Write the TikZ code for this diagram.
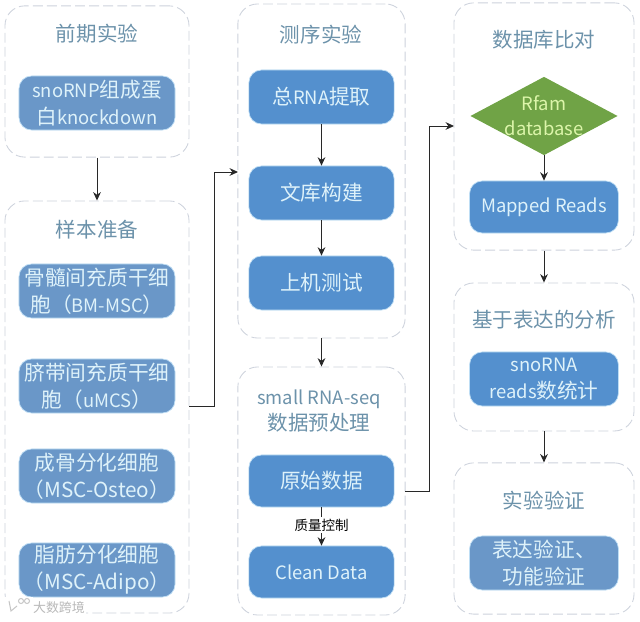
\documentclass[tikz,border=0pt]{standalone}
\usepackage{xcolor}
\usepackage{fontspec}
\setmainfont{Noto Sans CJK SC}
\usetikzlibrary{shapes.geometric, arrows.meta}
\definecolor{mypanel}{RGB}{205,210,220}
\definecolor{mytitle}{RGB}{108,146,170}
\definecolor{myblue}{RGB}{84,144,206}
\definecolor{mypale}{RGB}{106,151,200}
\definecolor{mygreen}{RGB}{112,163,70}
\definecolor{myglow}{RGB}{190,222,245}
\definecolor{mytext}{RGB}{222,242,250}
\definecolor{mylime}{RGB}{220,245,170}
\definecolor{mydark}{RGB}{40,40,40}
\newcommand{\lat}[1]{{\fontsize{13.1}{19.4}\selectfont #1}}
\tikzset{
  panel/.style={rectangle, draw=mypanel, dashed, dash pattern=on 7pt off 3pt,
    rounded corners=14pt, line width=0.6pt, fill=white},
  paneltitle/.style={align=center, text=mytitle, font=\fontsize{14.6}{18.6}\selectfont},
  block/.style={rectangle, draw=myglow, fill=myblue, text=mytext, align=center,
    minimum width=3.72cm, minimum height=1.35cm, inner sep=0pt,
    rounded corners=9pt, line width=0.5pt, font=\fontsize{14.7}{19.4}\selectfont},
  midblock/.style={block, minimum width=3.63cm},
  paleblock/.style={block, fill=mypale, minimum width=3.9cm},
  dbnode/.style={diamond, aspect=1.88, draw=none, fill=mygreen, text=mylime, align=center,
    minimum width=3.68cm, minimum height=1.96cm, inner sep=-2pt,
    font=\fontsize{13.1}{18}\selectfont},
  arrow/.style={-{Stealth[length=6pt, width=5.5pt]}, line width=0.7pt, color=mydark},
  line/.style={line width=0.7pt, color=mydark}
}
\begin{document}
\begin{tikzpicture}[x=0.025cm, y=-0.025cm]
  \useasboundingbox (0,0) rectangle (640,622);

  % Panels
  \node[panel, minimum width=4.6cm, minimum height=3.78cm] (pre) at (97,81.5) {};
  \node[panel, minimum width=4.6cm, minimum height=10.3cm] (sample) at (97,407) {};
  \node[panel, minimum width=4.18cm, minimum height=8.35cm] (seq) at (321.5,171) {};
  \node[panel, minimum width=4.18cm, minimum height=6.2cm] (clean) at (321.5,491) {};
  \node[panel, minimum width=4.5cm, minimum height=6.18cm] (db) at (544,126.5) {};
  \node[panel, minimum width=4.5cm, minimum height=3.7cm] (expr) at (544,357) {};
  \node[panel, minimum width=4.5cm, minimum height=3.78cm] (valid) at (544,538.5) {};

  % Titles
  \node[paneltitle] (pretitle) at (97,34) {前期实验};
  \node[paneltitle] (sampletitle) at (97,230) {样本准备};
  \node[paneltitle] (seqtitle) at (321,35) {测序实验};
  \node[paneltitle] (cleantitle) at (319,411) {\lat{small RNA-seq}\\数据预处理};
  \node[paneltitle] (dbtitle) at (544,40) {数据库比对};
  \node[paneltitle] (exprtitle) at (544,320) {基于表达的分析};
  \node[paneltitle] (validtitle) at (544,501) {实验验证};

  % Left column
  \node[paleblock] (knock) at (97,103) {\lat{snoRNP}组成蛋\\白\lat{knockdown}};
  \node[paleblock] (bm) at (97,291) {骨髓间充质干细\\胞（\lat{BM-MSC}）};
  \node[paleblock] (umcs) at (97,386) {脐带间充质干细\\胞（\lat{uMCS}）};
  \node[paleblock] (osteo) at (97,476) {成骨分化细胞\\（MSC-Osteo）};
  \node[paleblock] (adipo) at (97,570) {脂肪分化细胞\\（MSC-Adipo）};

  % Middle column
  \node[midblock] (rna) at (321.5,97) {总\lat{RNA}提取};
  \node[midblock] (lib) at (321.5,193) {文库构建};
  \node[midblock] (run) at (321.5,283) {上机测试};
  \node[midblock, minimum height=1.3cm] (raw) at (321.5,481) {原始数据};
  \node[midblock, minimum height=1.3cm] (cleandata) at (321.5,572) {\lat{Clean Data}};

  % Right column
  \node[dbnode] (rfam) at (544,116) {Rfam\\database};
  \node[block, minimum height=1.3cm] (mapped) at (544,207) {\lat{Mapped Reads}};
  \node[block] (count) at (544,379) {\lat{snoRNA}\\\lat{reads}数统计};
  \node[block, fill=mypale] (check) at (544,563) {表达验证、\\功能验证};

  % Paths
  \draw[arrow] (pre) -- (sample);
  \draw[arrow] (rna) -- (lib);
  \draw[arrow] (lib) -- (run);
  \draw[arrow] (seq) -- (clean);
  \draw[arrow] (rfam) -- (mapped);
  \draw[arrow] (db) -- (expr);
  \draw[arrow] (expr) -- (valid);

  % Links between columns
  \coordinate (leftout) at (189,406);
  \coordinate (leftin) at (238,172);
  \coordinate (rightout) at (405,491);
  \coordinate (rightin) at (454,126);
  \draw[line] (leftout) -- (214,406) -- (214,172);
  \draw[arrow] (214,172) -- (leftin);
  \draw[line] (rightout) -- (429,491) -- (429,126);
  \draw[arrow] (429,126) -- (rightin);

  % Quality control
  \draw[arrow] (raw) -- (cleandata) node[midway, yshift=1pt, fill=white, inner sep=1pt, text=black, font=\fontsize{9.6}{11}\selectfont] {质量控制};

  % Watermark
  \node[fill=white, text=gray!55, font=\fontsize{9.2}{11}\selectfont, inner sep=1pt] (mark) at (59,608) {大数跨境};
  \fill[white] (3,597) rectangle (33,616);
  \draw[gray!45, line width=0.7pt] (9,601) -- (11,611) -- (17,606);
  \draw[gray!45, line width=0.7pt] (21,601) circle (2.5) (27,601) circle (2.5);
\end{tikzpicture}
\end{document}
